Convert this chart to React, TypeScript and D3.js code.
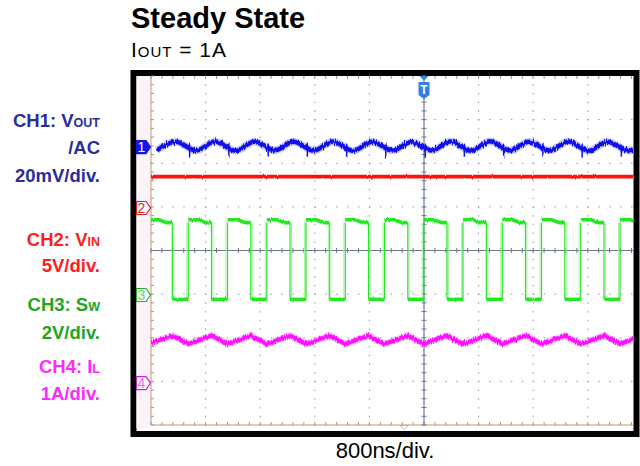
import React from 'react';
import * as d3 from 'd3';

const W = 640;
const H = 466;

// ---- data read off the scope shot ----
// time base 800 ns/div, trigger at centre (ns)
const timeDomain = [-4000, 4000];
// switching node edges (ns)
const riseTimes = [-4030, -3454, -2879, -2303, -1729, -1153, -579, -3, 571, 1147, 1722, 2297, 2872];
const fallTimes = [-3688, -3114, -2538, -1963, -1388, -813, -237, 337, 913, 1487, 2063, 2637, 3212];

// CH1 Vout ripple (mV, AC coupled)
const voutPeakTimes = [-3637, -3063, -2487, -1912, -1337, -762, -186, 388, 964, 1538, 2114, 2688, 3263];
const voutPeakValues = [2.4, 2.6, 2.5, 2.4, 2.6, 2.5, 2.3, 2.6, 2.7, 2.5, 2.6, 2.5, 2.5];
const voutTroughTimes = [-3913, -3337, -2762, -2186, -1612, -1036, -462, 114, 688, 1264, 1839, 2414, 2989];
const voutTroughValues = [-1.5, -1.6, -1.7, -1.5, -1.6, -1.7, -1.6, -1.5, -1.7, -1.6, -1.6, -1.7, -1.6];
const voutSpikeLow = -4.4;
const voutSpikeHigh = 1.6;

// CH2 Vin (V)
const vinLevel = 3.6;

// CH3 SW (V)
const swHighStart = 3.45;
const swHigh = 3.32;
const swLow = -0.2;

// CH4 IL (A)
const ilPeak = 1.09;
const ilTrough = 0.9;

// channel positions (div from centre) and scale per div
const channels = [
  { id: '1', offset: 2.37, perDiv: 20, color: '#1414e8', filled: true, text: '#ffffff' },
  { id: '2', offset: 0.974, perDiv: 5, color: '#e61e1e', filled: false, text: '#e61e1e' },
  { id: '3', offset: -1.02, perDiv: 2, color: '#2aa82a', filled: false, text: '#5ad85a' },
  { id: '4', offset: -3.04, perDiv: 1, color: '#d21ed2', filled: false, text: '#e86ae8' },
];

const labelLines = [
  { color: '#2c2c9c', parts: [['CH1: V', 18.5], ['OUT', 12.5]], y: 127 },
  { color: '#2c2c9c', parts: [['/AC', 18.5]], y: 154 },
  { color: '#2c2c9c', parts: [['20mV/div.', 18.5]], y: 182 },
  { color: '#ff1e1e', parts: [['CH2: V', 18.5], ['IN', 12.5]], y: 246 },
  { color: '#ff1e1e', parts: [['5V/div.', 18.5]], y: 272 },
  { color: '#22a622', parts: [['CH3: S', 18.5], ['W', 12.5]], y: 311 },
  { color: '#22a622', parts: [['2V/div.', 18.5]], y: 339 },
  { color: '#ff2aff', parts: [['CH4: I', 18.5], ['L', 12.5]], y: 373 },
  { color: '#ff2aff', parts: [['1A/div.', 18.5]], y: 400 },
];

// ---- geometry ----
const plotL = 151;
const plotR = 633;
const plotT = 76;
const plotB = 425;

const xScale = d3.scaleLinear().domain(timeDomain).range([151, 697]);
const divScale = d3.scaleLinear().domain([-4, 4]).range([plotB, plotT]);
const yCh = (ci: number) => (v: number) => divScale(channels[ci].offset + v / channels[ci].perDiv);

const FONT = '"Liberation Sans", Arial, Helvetica, sans-serif';

function NoiseFilter({ id, scale, freq, seed }: { id: string; scale: number; freq: string; seed: number }) {
  return (
    <filter id={id} filterUnits="userSpaceOnUse" x={140} y={60} width={500} height={380} colorInterpolationFilters="sRGB">
      <feTurbulence type="fractalNoise" baseFrequency={freq} numOctaves={2} seed={seed} result="n" />
      <feColorMatrix in="n" type="matrix" values="1 0 0 0 0  0 0 0 0 0.5  0 0 0 0 0  0 0 0 0 1" result="m" />
      <feDisplacementMap in="SourceGraphic" in2="m" scale={scale} xChannelSelector="G" yChannelSelector="R" />
    </filter>
  );
}

export default function App() {
  const divW = xScale(800) - xScale(0);
  const divH = divScale(0) - divScale(1);
  const cx = xScale(0);
  const cy = divScale(0);

  // grid dots
  const dots: JSX.Element[] = [];
  for (let k = -4; k <= 4; k++) {
    if (k === 0) continue;
    const x = xScale(k * 800);
    if (x > plotR) continue;
    for (let j = 0; j <= 40; j++) {
      const y = plotT + (j * divH) / 5;
      dots.push(<rect key={`v${k}_${j}`} x={x - 0.5} y={y - 0.5} width={1} height={1.5} fill="#8f98a8" />);
    }
  }
  for (let k = -3; k <= 3; k++) {
    if (k === 0) continue;
    const y = divScale(k);
    for (let j = 0; j <= 50; j++) {
      const x = plotL + (j * divW) / 5;
      if (x > plotR) break;
      dots.push(<rect key={`h${k}_${j}`} x={x - 0.5} y={y - 0.5} width={1.5} height={1} fill="#8f98a8" />);
    }
  }
  // edge + centre ticks
  const ticks: JSX.Element[] = [];
  for (let j = 0; j <= 50; j++) {
    const x = plotL + (j * divW) / 5;
    if (x > plotR) break;
    ticks.push(<line key={`tt${j}`} x1={x} x2={x} y1={plotT} y2={plotT + 3} stroke="#8f98a8" strokeWidth={1} />);
    ticks.push(<line key={`tb${j}`} x1={x} x2={x} y1={plotB - 3} y2={plotB} stroke="#8f98a8" strokeWidth={1} />);
    ticks.push(<line key={`tc${j}`} x1={x} x2={x} y1={cy - 2.5} y2={cy + 2.5} stroke="#6a7890" strokeWidth={1} />);
  }
  for (let j = 0; j <= 40; j++) {
    const y = plotT + (j * divH) / 5;
    ticks.push(<line key={`tl${j}`} x1={plotL} x2={plotL + 3} y1={y} y2={y} stroke="#8f98a8" strokeWidth={1} />);
    ticks.push(<line key={`tv${j}`} x1={cx - 2.5} x2={cx + 2.5} y1={y} y2={y} stroke="#6a7890" strokeWidth={1} />);
  }

  // CH1 path
  const y1 = yCh(0);
  const voutPts: [number, number][] = [];
  voutTroughTimes.forEach((t, i) => voutPts.push([t, voutTroughValues[i]]));
  voutPeakTimes.forEach((t, i) => voutPts.push([t, voutPeakValues[i]]));
  voutPts.sort((a, b) => a[0] - b[0]);
  const voutLine = d3
    .line<[number, number]>()
    .x((d) => xScale(d[0]))
    .y((d) => y1(d[1]))
    .curve(d3.curveMonotoneX)(voutPts) as string;

  // CH2
  const y2 = yCh(1);
  // CH3
  const y3 = yCh(2);
  const swHighSegs = riseTimes.map((r, i) => [
    [r, swHighStart],
    [r + 150, swHighStart],
    [r + 260, swHigh],
    [fallTimes[i], swHigh],
  ]);
  const swLowSegs = fallTimes.map((f, i) => [
    [f, swLow],
    [riseTimes[i + 1] ?? f + 400, swLow],
  ]);
  const segLine = d3
    .line<number[]>()
    .x((d) => xScale(d[0]))
    .y((d) => y3(d[1]));

  // CH4
  const y4 = yCh(3);
  const ilPts: [number, number][] = [];
  riseTimes.forEach((t) => ilPts.push([t, ilTrough]));
  fallTimes.forEach((t) => ilPts.push([t, ilPeak]));
  ilPts.sort((a, b) => a[0] - b[0]);
  const ilLine = d3
    .line<[number, number]>()
    .x((d) => xScale(d[0]))
    .y((d) => y4(d[1]))(ilPts) as string;

  return (
    <svg width={W} height={H} style={{ position: 'absolute', left: 0, top: 0 }} xmlns="http://www.w3.org/2000/svg">
      <defs>
        <clipPath id="plotClip">
          <rect x={plotL} y={plotT} width={plotR - plotL} height={plotB - plotT} />
        </clipPath>
        <NoiseFilter id="nBlue" scale={7} freq="0.9 0.02" seed={3} />
        <NoiseFilter id="nMag" scale={5} freq="0.9 0.02" seed={7} />
        <NoiseFilter id="nSmall" scale={2.5} freq="0.9 0.02" seed={11} />
        <NoiseFilter id="nRed" scale={2} freq="0.9 0.02" seed={5} />
      </defs>
      <rect x={0} y={0} width={W} height={H} fill="#ffffff" />

      {/* titles */}
      <text x={131} y={28} fontFamily={FONT} fontWeight="bold" fontSize={29} fill="#000">Steady State</text>
      <text x={131} y={57} fontFamily={FONT} fontSize={21} fill="#000" textLength={95} lengthAdjust="spacing">
        I<tspan fontSize={15}>OUT</tspan> = 1A
      </text>
      <text x={385} y={458} fontFamily={FONT} fontSize={22} fill="#000" textAnchor="middle">800ns/div.</text>

      {/* channel labels */}
      {labelLines.map((l, i) => (
        <text key={i} x={100} y={l.y} textAnchor="end" fontFamily={FONT} fontWeight="bold" fill={l.color}>
          {l.parts.map((p, j) => (
            <tspan key={j} fontSize={p[1] as number}>{p[0] as string}</tspan>
          ))}
        </text>
      ))}

      {/* scope frame */}
      <rect x={133.5} y={73} width={503} height={361} fill="#ffffff" stroke="#000" strokeWidth={6} />
      <rect x={136.5} y={76} width={14.5} height={352} fill="#fcf3fa" />
      <line x1={plotL} x2={plotL} y1={plotT} y2={plotB} stroke="#d9b99a" strokeWidth={1.5} />
      <line x1={plotL} x2={plotR} y1={plotB} y2={plotB} stroke="#d9b99a" strokeWidth={1.5} />

      {dots}
      {ticks}
      <line x1={plotL} x2={plotR} y1={cy} y2={cy} stroke="#6a7890" strokeWidth={1.2} />
      <line x1={cx} x2={cx} y1={plotT} y2={plotB} stroke="#6a7890" strokeWidth={1.2} />

      <g clipPath="url(#plotClip)">
        {/* CH2 Vin */}
        <g filter="url(#nRed)">
          <line x1={plotL - 10} x2={plotR + 10} y1={y2(vinLevel)} y2={y2(vinLevel)} stroke="#ff1010" strokeWidth={3.6} />
        </g>

        {/* CH1 Vout */}
        <path d={voutLine} fill="none" stroke="#6a6af4" strokeOpacity={0.35} strokeWidth={7.5} />
        <g filter="url(#nBlue)">
          <path d={voutLine} fill="none" stroke="#1010ea" strokeWidth={4.5} />
          {riseTimes.map((t, i) => (
            <line key={`s${i}`} x1={xScale(t + 20)} x2={xScale(t + 20)} y1={y1(voutSpikeHigh)} y2={y1(voutSpikeLow)} stroke="#1010ea" strokeWidth={1.5} />
          ))}
        </g>

        {/* CH3 SW */}
        {riseTimes.map((t, i) => (
          <g key={`e${i}`}>
            <line x1={xScale(t) - 1.5} x2={xScale(t) - 1.5} y1={y3(swLow)} y2={y3(swHigh)} stroke="#a8f2a8" strokeWidth={1} />
            <line x1={xScale(t)} x2={xScale(t)} y1={y3(swLow)} y2={y3(swHigh)} stroke="#22e822" strokeWidth={1.2} />
          </g>
        ))}
        {fallTimes.map((t, i) => (
          <g key={`f${i}`}>
            <line x1={xScale(t) + 1.5} x2={xScale(t) + 1.5} y1={y3(swLow)} y2={y3(swHigh)} stroke="#a8f2a8" strokeWidth={1} />
            <line x1={xScale(t)} x2={xScale(t)} y1={y3(swLow)} y2={y3(swHigh)} stroke="#22e822" strokeWidth={1.2} />
          </g>
        ))}
        <g filter="url(#nSmall)">
          {swHighSegs.map((s, i) => (
            <path key={`h${i}`} d={segLine(s) as string} fill="none" stroke="#22e822" strokeWidth={3.6} />
          ))}
          {swLowSegs.map((s, i) => (
            <path key={`l${i}`} d={segLine(s) as string} fill="none" stroke="#22e822" strokeWidth={3.6} />
          ))}
        </g>

        {/* CH4 IL */}
        <path d={ilLine} fill="none" stroke="#ff70ff" strokeOpacity={0.4} strokeWidth={6.5} />
        <g filter="url(#nMag)">
          <path d={ilLine} fill="none" stroke="#ff10ff" strokeWidth={4.2} />
        </g>
      </g>

      {/* channel markers */}
      {channels.map((c, i) => {
        const y = yCh(i)(0);
        return (
          <g key={c.id}>
            <path
              d={`M136.5,${y - 6.5} H146 L150.5,${y} L146,${y + 6.5} H136.5 Z`}
              fill={c.filled ? c.color : '#ffffff'}
              stroke={c.color}
              strokeWidth={1.2}
            />
            <text x={141.5} y={y + 5} textAnchor="middle" fontFamily={FONT} fontSize={14} fill={c.text}>{c.id}</text>
          </g>
        );
      })}

      {/* trigger marker */}
      <path d={`M${cx - 4.5},${plotT} H${cx + 4.5} L${cx},${plotT + 4.5} Z`} fill="#2f7fe6" />
      <path d={`M${cx - 5.5},${plotT + 6} H${cx + 5.5} V${plotT + 19} L${cx},${plotT + 23} L${cx - 5.5},${plotT + 19} Z`} fill="#2f7fe6" />
      <text x={cx} y={plotT + 18} textAnchor="middle" fontFamily={FONT} fontWeight="bold" fontSize={12} fill="#ffffff">T</text>

      {/* bottom position marker */}
      <path d={`M${xScale(-290) - 4},${plotB + 0.5} H${xScale(-290) + 4} L${xScale(-290)},${plotB + 4.5} Z`} fill="#ffffff" stroke="#b0a090" strokeWidth={0.8} />
    </svg>
  );
}
